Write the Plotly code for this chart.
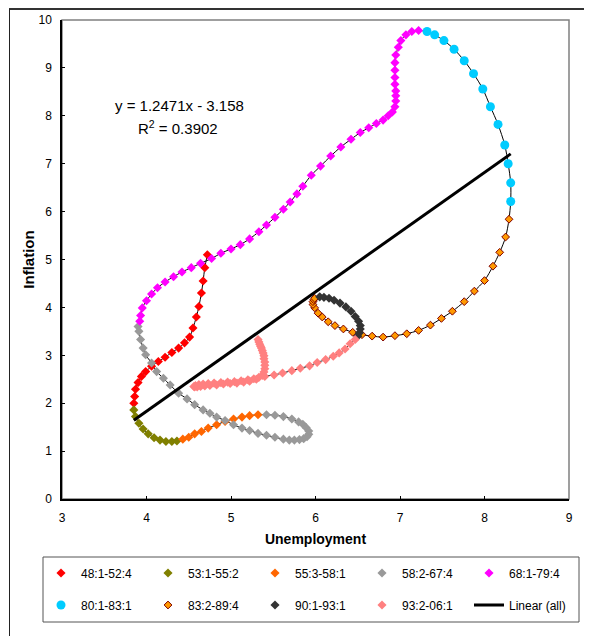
import plotly.graph_objects as go

# ---------------- data ----------------
names = ["48:1-52:4", "53:1-55:2", "55:3-58:1", "58:2-67:4", "68:1-79:4",
         "80:1-83:1", "83:2-89:4", "90:1-93:1", "93:2-06:1"]

u_48_52 = [4.72, 4.69, 4.67, 4.65, 4.62, 4.59, 4.55, 4.51, 4.45, 4.38, 4.30, 4.22, 4.14, 4.06,
           3.99, 3.94, 3.90, 3.87, 3.86, 3.85]
p_48_52 = [5.10, 4.83, 4.55, 4.30, 4.02, 3.80, 3.57, 3.38, 3.26, 3.15, 3.06, 2.96, 2.87, 2.77,
           2.66, 2.56, 2.43, 2.29, 2.14, 2.00]

u_53_55 = [3.85, 3.87, 3.91, 3.96, 4.02, 4.09, 4.16, 4.23, 4.30, 4.36]
p_53_55 = [1.86, 1.72, 1.58, 1.46, 1.36, 1.28, 1.23, 1.20, 1.20, 1.21]

u_55_58 = [4.43, 4.50, 4.57, 4.65, 4.73, 4.83, 4.93, 5.03, 5.13, 5.22, 5.32]
p_55_58 = [1.25, 1.29, 1.36, 1.41, 1.48, 1.55, 1.62, 1.67, 1.71, 1.74, 1.76]

u_58_67 = [5.42, 5.52, 5.62, 5.72, 5.80, 5.85, 5.89, 5.92, 5.92, 5.90, 5.86, 5.81, 5.75, 5.69,
           5.62, 5.52, 5.42, 5.32, 5.22, 5.13, 5.03, 4.93, 4.83, 4.75, 4.67, 4.57, 4.48, 4.38,
           4.28, 4.20, 4.12, 4.06, 3.99, 3.96, 3.93, 3.91, 3.90]
p_58_67 = [1.76, 1.75, 1.72, 1.67, 1.61, 1.56, 1.49, 1.42, 1.35, 1.30, 1.26, 1.24, 1.23, 1.23,
           1.25, 1.29, 1.33, 1.37, 1.43, 1.48, 1.55, 1.64, 1.71, 1.79, 1.86, 1.97, 2.09, 2.21,
           2.38, 2.52, 2.66, 2.84, 3.01, 3.15, 3.33, 3.50, 3.60]

u_68_79 = [3.92, 3.93, 3.95, 4.00, 4.06, 4.13, 4.22, 4.32, 4.42, 4.53, 4.64, 4.77, 4.88, 5.00,
           5.11, 5.22, 5.33, 5.42, 5.52, 5.62, 5.70, 5.78, 5.85, 5.95, 6.06, 6.18, 6.30, 6.42,
           6.53, 6.63, 6.72, 6.80, 6.86, 6.91, 6.94, 6.95, 6.95, 6.95, 6.94, 6.94, 6.94, 6.94,
           6.95, 6.98, 7.01, 7.07, 7.14, 7.22]
p_68_79 = [3.71, 3.83, 3.99, 4.14, 4.28, 4.41, 4.53, 4.64, 4.74, 4.83, 4.92, 5.02, 5.13, 5.22,
           5.31, 5.43, 5.58, 5.72, 5.88, 6.05, 6.20, 6.37, 6.53, 6.76, 6.95, 7.16, 7.35, 7.51,
           7.65, 7.75, 7.84, 7.91, 8.00, 8.08, 8.19, 8.31, 8.42, 8.52, 8.66, 8.80, 8.95, 9.11,
           9.27, 9.43, 9.57, 9.69, 9.76, 9.78]

u_80_83 = [7.32, 7.41, 7.52, 7.64, 7.76, 7.87, 7.98, 8.07, 8.16, 8.24, 8.28, 8.31, 8.31]
p_80_83 = [9.76, 9.69, 9.57, 9.39, 9.15, 8.88, 8.56, 8.19, 7.82, 7.39, 7.00, 6.60, 6.21]

u_83_89 = [8.29, 8.25, 8.18, 8.10, 8.00, 7.88, 7.76, 7.62, 7.49, 7.36, 7.22, 7.08, 6.94, 6.80,
           6.67, 6.55, 6.44, 6.33, 6.23, 6.15, 6.08, 6.03, 5.99, 5.97, 5.97, 5.98, 5.99]
p_83_89 = [5.84, 5.47, 5.15, 4.86, 4.56, 4.34, 4.12, 3.92, 3.77, 3.63, 3.52, 3.45, 3.41, 3.38,
           3.40, 3.43, 3.48, 3.55, 3.62, 3.70, 3.80, 3.88, 3.99, 4.06, 4.12, 4.16, 4.19]

u_90_93 = [6.05, 6.10, 6.16, 6.22, 6.29, 6.36, 6.42, 6.47, 6.51, 6.53, 6.53, 6.52, 6.50]
p_90_93 = [4.22, 4.21, 4.19, 4.15, 4.09, 4.01, 3.92, 3.81, 3.71, 3.62, 3.55, 3.47, 3.40]

u_93_06 = [6.47, 6.41, 6.35, 6.28, 6.21, 6.12, 6.02, 5.93, 5.82, 5.72, 5.61, 5.51, 5.40,
           5.30, 5.22, 5.15, 5.07, 4.99, 4.91, 4.83, 4.75, 4.69, 4.64, 4.60, 4.57, 4.56,
           4.58, 4.62, 4.67, 4.73, 4.80, 4.88, 4.96, 5.04, 5.12, 5.20, 5.27, 5.33, 5.37,
           5.39, 5.40, 5.40, 5.40, 5.39, 5.39, 5.38, 5.37, 5.36, 5.35, 5.34, 5.33, 5.32]
p_93_06 = [3.33, 3.24, 3.13, 3.05, 2.98, 2.91, 2.85, 2.78, 2.73, 2.68, 2.63, 2.59, 2.56,
           2.50, 2.46, 2.44, 2.42, 2.41, 2.40, 2.38, 2.37, 2.36, 2.35, 2.34, 2.34, 2.35,
           2.37, 2.39, 2.40, 2.41, 2.42, 2.43, 2.44, 2.45, 2.47, 2.49, 2.51, 2.54, 2.58,
           2.65, 2.72, 2.79, 2.86, 2.93, 2.99, 3.05, 3.10, 3.15, 3.19, 3.23, 3.28, 3.33]

unemp = [u_48_52, u_53_55, u_55_58, u_58_67, u_68_79, u_80_83, u_83_89, u_90_93, u_93_06]
infl = [p_48_52, p_53_55, p_55_58, p_58_67, p_68_79, p_80_83, p_83_89, p_90_93, p_93_06]

slope = 1.2471
intercept = -3.158
r2 = 0.3902

x_ticks = [3, 4, 5, 6, 7, 8, 9]
y_ticks = [0, 1, 2, 3, 4, 5, 6, 7, 8, 9, 10]

# ---------------- styles ----------------
styles = [
    dict(symbol="diamond", color="#FF0000", size=7),
    dict(symbol="diamond", color="#808000", size=7),
    dict(symbol="diamond", color="#FF6600", size=7),
    dict(symbol="diamond", color="#999999", size=7),
    dict(symbol="diamond", color="#FF00FF", size=7),
    dict(symbol="circle", color="#00CCFF", size=9),
    dict(symbol="diamond", color="#FF9900", size=6, line=dict(color="#800000", width=1)),
    dict(symbol="diamond", color="#333333", size=7),
    dict(symbol="diamond", color="#FF8080", size=7),
]

FONT = "Liberation Sans, Arial, sans-serif"
OX, OY = 8, 8                 # page body offset
W, H = 584, 628               # figure size
L, T = 62 - OX, 20 - OY       # plot area left/top in figure px
PW, PH = 507, 479
R = W - L - PW
B = H - T - PH


def px(xpage):
    return (xpage - OX - L) / PW


def py(ypage):
    return (T + PH - (ypage - OY)) / PH


fig = go.Figure()

# connecting thin black line through all quarters
all_x = [v for s in unemp for v in s]
all_y = [v for s in infl for v in s]
fig.add_trace(go.Scatter(x=all_x, y=all_y, mode="lines",
                         line=dict(color="black", width=1, shape="spline", smoothing=0.8),
                         showlegend=False, hoverinfo="skip"))

for i, (n, xs, ys, st) in enumerate(zip(names, unemp, infl, styles)):
    mk = dict(symbol=st["symbol"], color=st["color"], size=st["size"],
              line=st.get("line", dict(width=0)))
    fig.add_trace(go.Scatter(x=xs, y=ys, mode="markers", name=n, marker=mk,
                             legend="legend" if i < 5 else "legend2"))

xmin, xmax = min(all_x), max(all_x)
fig.add_trace(go.Scatter(x=[xmin, xmax], y=[slope * xmin + intercept, slope * xmax + intercept],
                         mode="lines", name="Linear (all)", line=dict(color="black", width=3),
                         legend="legend2"))

leg_common = dict(orientation="h", xanchor="left", yanchor="middle",
                  font=dict(family=FONT, size=12, color="black"),
                  bgcolor="rgba(0,0,0,0)", borderwidth=0,
                  entrywidth=62, entrywidthmode="pixels", itemwidth=30,
                  itemclick=False, itemdoubleclick=False)

fig.update_layout(
    width=W, height=H,
    margin=dict(l=L, r=R, t=T, b=B, autoexpand=False),
    paper_bgcolor="white", plot_bgcolor="white",
    font=dict(family=FONT, size=12, color="black"),
    showlegend=True,
    legend=dict(x=px(41), y=py(573), **leg_common),
    legend2=dict(x=px(41), y=py(605), **leg_common),
    xaxis=dict(range=[3, 9], tickvals=x_ticks, ticks="inside", ticklen=3, tickcolor="black",
               showline=True, linecolor="black", linewidth=1.5, showgrid=False, zeroline=False,
               tickfont=dict(size=12), ticklabelstandoff=7, automargin=False,
               title=dict(text="<b>Unemployment</b>", font=dict(size=14), standoff=10)),
    yaxis=dict(range=[0, 10], tickvals=y_ticks, ticks="inside", ticklen=3, tickcolor="black",
               showline=True, linecolor="black", linewidth=1.5, showgrid=False, zeroline=False,
               tickfont=dict(size=12), ticklabelstandoff=6, automargin=False,
               title=dict(text="<b>Inflation</b>", font=dict(size=15), standoff=0)),
    shapes=[
        # plot area box (gray top/right)
        dict(type="rect", xref="paper", yref="paper", x0=0, x1=1, y0=0, y1=1,
             line=dict(color="#808080", width=1.5), layer="below"),
        # outer chart frame
        dict(type="line", xref="paper", yref="paper", x0=px(9), x1=px(W + 20), y0=py(9), y1=py(9),
             line=dict(color="#333333", width=2)),
        dict(type="line", xref="paper", yref="paper", x0=px(9.5), x1=px(9.5), y0=py(9), y1=py(H + 20),
             line=dict(color="#222222", width=1)),
        # legend frame
        dict(type="rect", xref="paper", yref="paper", x0=px(43), x1=px(579), y0=py(557), y1=py(622),
             line=dict(color="#555555", width=1)),
    ],
    annotations=[
        dict(text="y = 1.2471x - 3.158", xref="paper", yref="paper", x=px(179), y=py(105),
             showarrow=False, font=dict(size=15), xanchor="center", yanchor="middle"),
        dict(text="R<sup>2</sup> = 0.3902", xref="paper", yref="paper", x=px(178), y=py(128),
             showarrow=False, font=dict(size=15), xanchor="center", yanchor="middle"),
    ],
)

fig.write_html("out.html")
